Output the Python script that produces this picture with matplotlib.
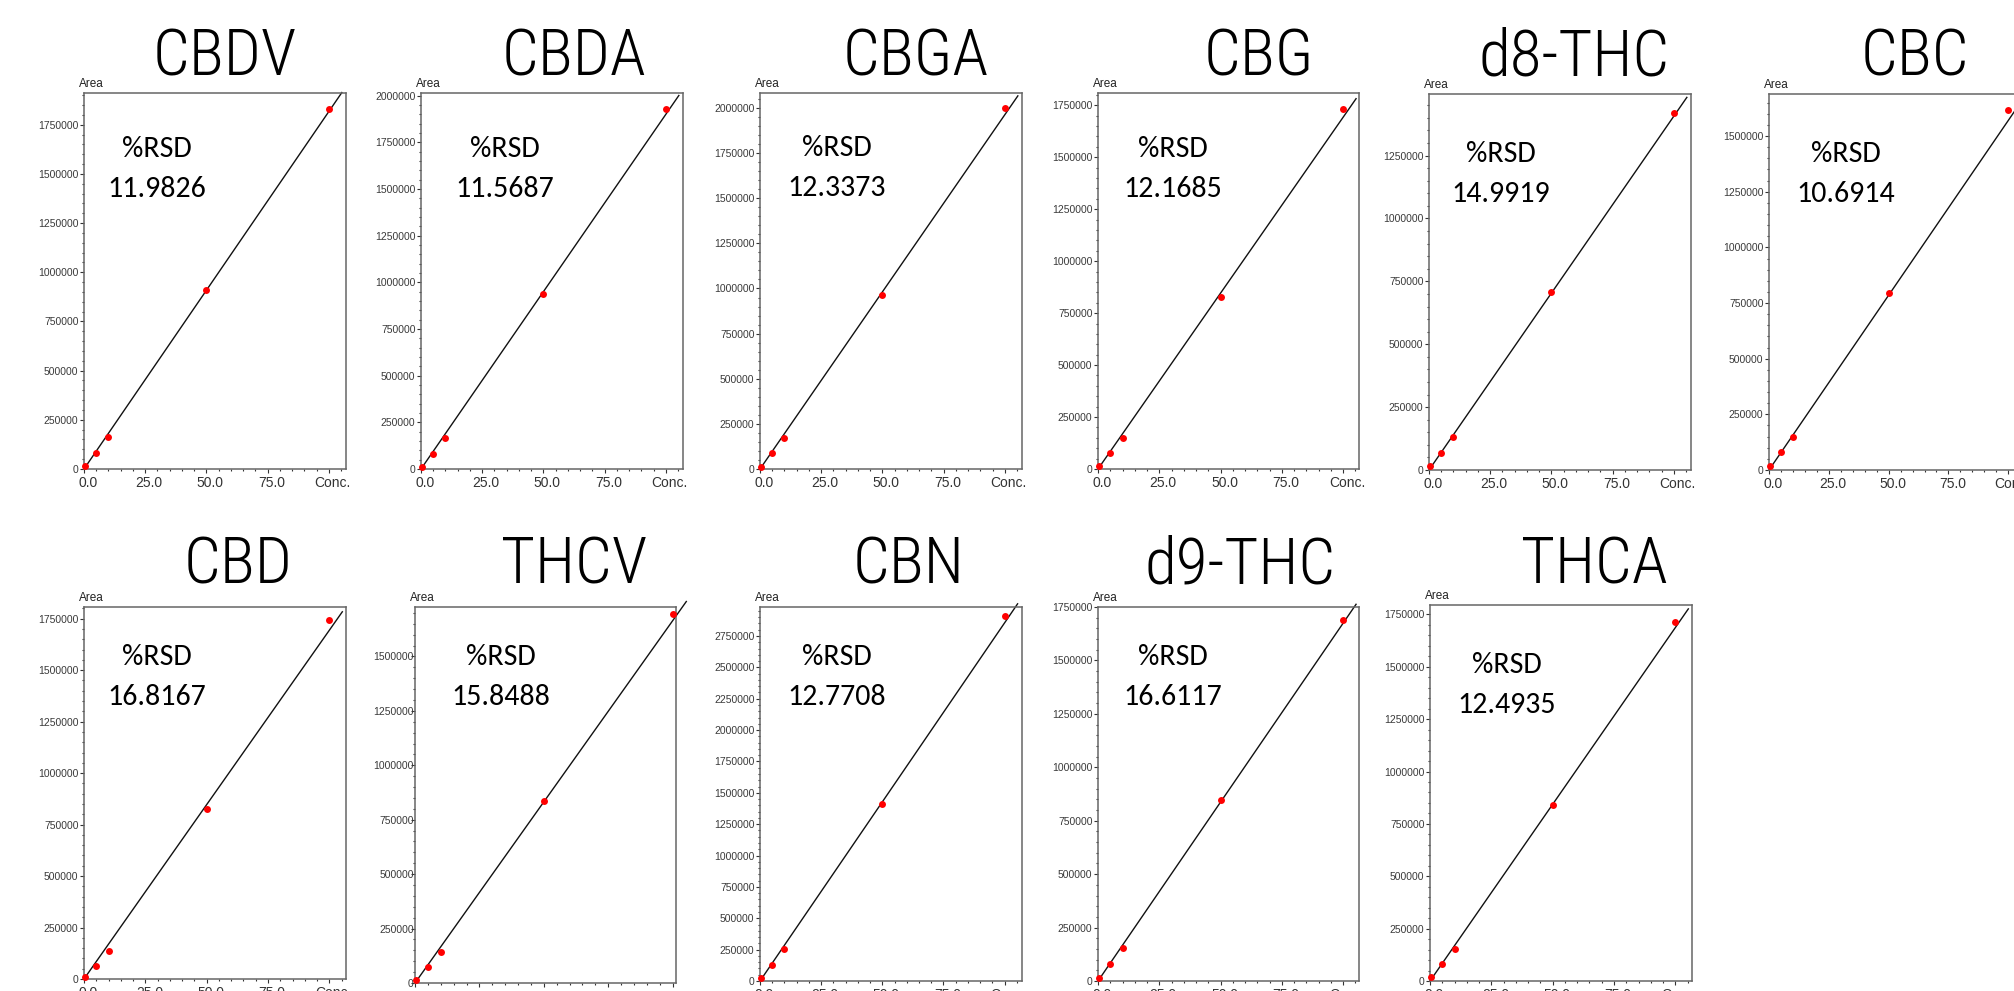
import matplotlib.pyplot as plt
from matplotlib import font_manager
from matplotlib.ticker import MultipleLocator, FixedLocator, FixedFormatter
from matplotlib.transforms import ScaledTranslation
import numpy as np

W, H = 2014, 991

# calibration levels (same for every compound)
conc = [0.5, 5, 10, 50, 100]

names = ['CBDV', 'CBDA', 'CBGA', 'CBG', 'd8-THC', 'CBC',
         'CBD', 'THCV', 'CBN', 'd9-THC', 'THCA']
rsd = ['11.9826', '11.5687', '12.3373', '12.1685', '14.9919', '10.6914',
       '16.8167', '15.8488', '12.7708', '16.6117', '12.4935']

# peak areas
cbdv = [17000, 81000, 163000, 908000, 1831000]
cbda = [11000, 82000, 166000, 936000, 1928000]
cbga = [13000, 91000, 170000, 963000, 2000000]
cbg = [16000, 75000, 149000, 826000, 1733000]
d8_thc = [15000, 69000, 131000, 707000, 1421000]
cbc = [18000, 79000, 147000, 793000, 1617000]
cbd = [12000, 65000, 134000, 824000, 1742000]
thcv = [15000, 73000, 142000, 834000, 1693000]
cbn = [24000, 125000, 255000, 1413000, 2907000]
d9_thc = [16000, 78000, 154000, 845000, 1688000]
thca = [19000, 83000, 154000, 842000, 1715000]
areas = [cbdv, cbda, cbga, cbg, d8_thc, cbc, cbd, thcv, cbn, d9_thc, thca]

# slope of the drawn calibration line (area per unit conc.)
slopes = [18170, 19000, 19630, 16920, 14070, 15700,
          16940, 16640, 28550, 16740, 16870]
line_end = 105.3

# axis ranges
y_max = [1911000, 2014000, 2083000, 1809000, 1495000, 1689000,
         1807000, 1727000, 2981000, 1750000, 1795000]
x_max = [107, 107, 107, 106.5, 107, 107, 106.8, 101.3, 107.1, 106.5, 106.8]

# layout in pixels: axes box (left, top, right, bottom)
boxes = [(84, 93, 346, 469), (421, 93, 683, 469), (760, 93, 1022, 469),
         (1098, 93, 1359, 469), (1429, 94, 1691, 470), (1769, 94, 2025, 470),
         (84, 607, 346, 979), (415, 607, 676, 983), (760, 607, 1022, 981),
         (1098, 607, 1359, 981), (1430, 605, 1692, 981)]
title_x = [225, 574, 916, 1259, 1574, 1915, 238, 574, 909, 1240, 1594]
title_y = [75, 75, 75, 75, 75, 75, 583, 583, 583, 583, 583]
rsd_dx = [73, 84, 77, 75, 72, 77, 73, 86, 77, 75, 77]
rsd_dy = [64, 64, 63, 64, 68, 68, 58, 58, 58, 58, 68]


def have(name):
    try:
        font_manager.findfont(name, fallback_to_default=False)
        return True
    except ValueError:
        return False


tick_font = ['Liberation Sans', 'DejaVu Sans']
title_font = ['Roboto Condensed', 'Archivo Narrow', 'Liberation Sans', 'DejaVu Sans']
if have('Carlito'):
    rsd_font, rsd_size = ['Carlito', 'DejaVu Sans'], 21.5
else:
    rsd_font, rsd_size = ['Lato', 'DejaVu Sans'], 18.5

fig = plt.figure(figsize=(W / 100, H / 100), dpi=100)
fig.patch.set_facecolor('white')

for i, name in enumerate(names):
    l, t, r, b = boxes[i]
    ax = fig.add_axes([l / W, 1 - b / H, (r - l) / W, (b - t) / H])
    ax.set_xlim(0, x_max[i])
    ax.set_ylim(0, y_max[i])

    xs = np.array([0, line_end])
    ax.plot(xs, slopes[i] * xs, color='#111111', lw=1.0, clip_on=False, zorder=2)
    ax.plot(conc, areas[i], 'o', color='#ff0000', ms=5, mec='none',
            clip_on=False, zorder=3)

    for s in ax.spines.values():
        s.set_color('#666666')
        s.set_linewidth(1.1)

    ax.yaxis.set_major_locator(MultipleLocator(250000))
    ax.yaxis.set_minor_locator(MultipleLocator(50000))
    ax.ticklabel_format(axis='y', style='plain', useOffset=False)
    ax.xaxis.set_major_locator(FixedLocator([0, 25, 50, 75, 100]))
    ax.xaxis.set_major_formatter(FixedFormatter(['0.0', '25.0', '50.0', '75.0', 'Conc.']))
    ax.xaxis.set_minor_locator(MultipleLocator(5))

    ypad = -2 if name == 'THCV' else 1
    ax.tick_params(axis='y', which='major', length=3, width=0.8, color='#333333',
                   labelsize=7.5, labelcolor='#3a3a3a', pad=ypad)
    ax.tick_params(axis='y', which='minor', length=1.5, width=0.8, color='#333333')
    ax.tick_params(axis='x', which='major', length=3, width=0.8, color='#333333',
                   labelsize=10, labelcolor='#333333', pad=2)
    ax.tick_params(axis='x', which='minor', length=1.5, width=0.8, color='#333333')
    for lab in ax.get_yticklabels() + ax.get_xticklabels():
        lab.set_family(tick_font)
    shift = ScaledTranslation(4 / 100, 0, fig.dpi_scale_trans)
    for lab in ax.get_xticklabels():
        lab.set_transform(lab.get_transform() + shift)

    fig.text((l - 5) / W, 1 - (t - 3) / H, 'Area', ha='left', va='bottom',
             fontsize=8.5, color='#222222', family=tick_font)

    fig.text(title_x[i] / W, 1 - title_y[i] / H, name, ha='center', va='baseline',
             fontsize=47, fontweight='light', color='black', family=title_font)

    cx = (l + rsd_dx[i]) / W
    fig.text(cx, 1 - (t + rsd_dy[i]) / H, '%RSD', ha='center', va='baseline',
             fontsize=rsd_size, color='black', family=rsd_font)
    fig.text(cx, 1 - (t + rsd_dy[i] + 40) / H, rsd[i], ha='center', va='baseline',
             fontsize=rsd_size, color='black', family=rsd_font)

fig.savefig('out.png', dpi=100, facecolor='white')
